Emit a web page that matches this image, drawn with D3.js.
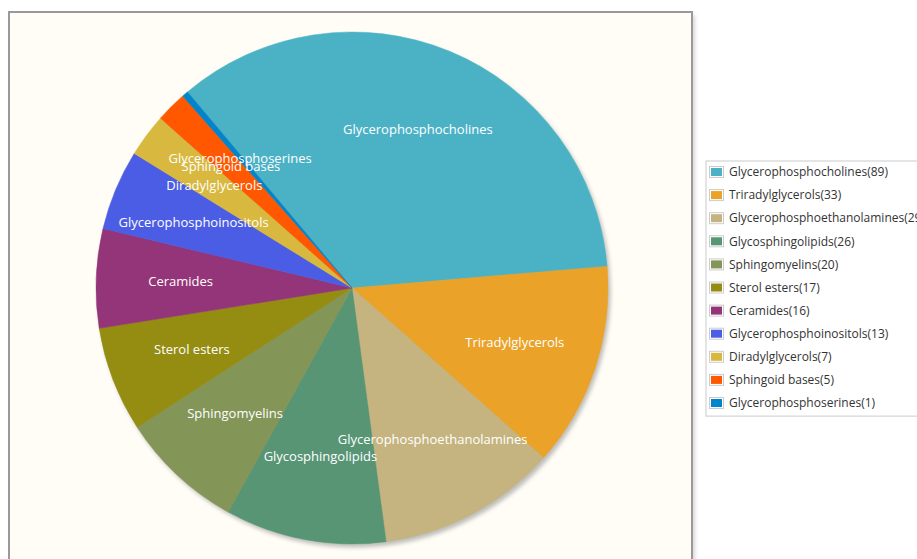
<!DOCTYPE html>
<html>
<head>
<meta charset="utf-8">
<script src="https://cdn.jsdelivr.net/npm/d3@7/dist/d3.min.js"></script>
<style>
  html, body { margin: 0; padding: 0; background: #ffffff; }
  svg { display: block; }
  text { font-family: "Open Sans", "DejaVu Sans", sans-serif; }
</style>
</head>
<body>
<svg id="chart" width="917" height="559"></svg>
<script>
// Lipid class counts
const categories = [
  "Glycerophosphocholines", "Triradylglycerols", "Glycerophosphoethanolamines",
  "Glycosphingolipids", "Sphingomyelins", "Sterol esters", "Ceramides",
  "Glycerophosphoinositols", "Diradylglycerols", "Sphingoid bases",
  "Glycerophosphoserines"
];
const values = [89, 33, 29, 26, 20, 17, 16, 13, 7, 5, 1];
const colors = [
  "#4bb2c5", "#eaa228", "#c5b47f", "#579575", "#839557", "#958c12",
  "#953579", "#4b5de4", "#d8b83f", "#ff5800", "#0085cc"
];

const data = categories.map((c, i) => ({ name: c, value: values[i], color: colors[i] }));

const svg = d3.select("#chart");
const defs = svg.append("defs");

// Soft drop shadow for the frame and the pie
const blur = defs.append("filter").attr("id", "soft").attr("x", "-10%").attr("y", "-10%")
  .attr("width", "120%").attr("height", "120%");
blur.append("feGaussianBlur").attr("stdDeviation", 2.2);

// Plot frame
const frame = { x: 9, y: 12, w: 683, h: 560 };
svg.append("rect")
  .attr("x", frame.x + 3).attr("y", frame.y + 3)
  .attr("width", frame.w).attr("height", frame.h)
  .attr("fill", "#bbbbbb").attr("filter", "url(#soft)").attr("opacity", 0.6);
svg.append("rect")
  .attr("x", frame.x).attr("y", frame.y)
  .attr("width", frame.w).attr("height", frame.h)
  .attr("fill", "#fffdf6").attr("stroke", "#999999").attr("stroke-width", 2);

// Pie
const cx = 352, cy = 288, R = 256;
const startDeg = -40;
const pie = d3.pie().value(d => d.value).sort(null)
  .startAngle(startDeg * Math.PI / 180)
  .endAngle((startDeg + 360) * Math.PI / 180);
const arcs = pie(data);
const arc = d3.arc().innerRadius(0).outerRadius(R);

const g = svg.append("g").attr("transform", `translate(${cx},${cy})`);

// shadow under the pie
g.append("circle")
  .attr("cx", 2.5).attr("cy", 3.5).attr("r", R)
  .attr("fill", "#888888").attr("opacity", 0.55).attr("filter", "url(#soft)");

g.selectAll("path.slice")
  .data(arcs)
  .join("path")
  .attr("class", "slice")
  .attr("d", arc)
  .attr("fill", d => d.data.color)
  .attr("stroke", d => d.data.color)
  .attr("stroke-width", 0.5);

// Slice labels
const labelArc = d3.arc().innerRadius(R * 0.67).outerRadius(R * 0.67);
g.selectAll("text.lbl")
  .data(arcs)
  .join("text")
  .attr("class", "lbl")
  .attr("transform", d => `translate(${labelArc.centroid(d)})`)
  .attr("text-anchor", "middle")
  .attr("dy", "0.35em")
  .attr("fill", "#ffffff")
  .attr("font-size", 13)
  .text(d => d.data.name);

// Legend
const lg = { x: 706, y: 161, w: 230, row: 23.1 };
svg.append("rect")
  .attr("x", lg.x).attr("y", lg.y)
  .attr("width", lg.w).attr("height", lg.row * data.length + 1)
  .attr("fill", "#ffffff").attr("stroke", "#cccccc").attr("stroke-width", 1);

const rows = svg.selectAll("g.leg")
  .data(data)
  .join("g")
  .attr("class", "leg")
  .attr("transform", (d, i) => `translate(${lg.x}, ${lg.y + 11 + i * lg.row})`);

rows.append("rect")
  .attr("x", 3.5).attr("y", -5.5).attr("width", 14).attr("height", 11)
  .attr("fill", "none").attr("stroke", "#cccccc").attr("stroke-width", 1);
rows.append("rect")
  .attr("x", 5).attr("y", -4).attr("width", 11).attr("height", 8)
  .attr("fill", d => d.color);
rows.append("text")
  .attr("x", 23).attr("dy", "0.35em")
  .attr("font-size", 12)
  .attr("fill", "#333333")
  .text(d => `${d.name}(${d.value})`);
</script>
</body>
</html>
